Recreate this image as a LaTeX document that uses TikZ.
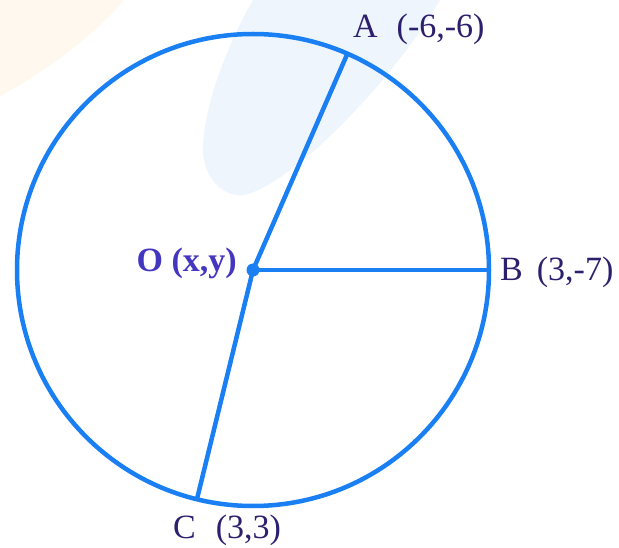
\documentclass[tikz,border=0pt]{standalone}
\usepackage{fontspec}
\setmainfont{Liberation Serif}
\definecolor{circblue}{HTML}{1A7FF2}
\definecolor{lblcol}{HTML}{2E1F6E}
\definecolor{ocol}{HTML}{4536C0}
\definecolor{wmblue}{HTML}{EEF5FD}
\definecolor{wmorange}{HTML}{FEF8EE}
\tikzset{
  geo/.style={draw=circblue, line width=4.5pt},
  lbl/.style={text=lblcol, font=\fontsize{34}{40}\selectfont, inner sep=0pt},
  olbl/.style={text=ocol, font=\fontsize{34}{40}\selectfont\bfseries, inner sep=0pt},
  wm/.style={fill=wmblue, draw=none},
  wmo/.style={fill=wmorange, draw=none}
}
\begin{document}
\begin{tikzpicture}[x=1pt,y=-1pt]
\useasboundingbox (0,0) rectangle (619,548);
% faint background watermarks
\fill[wmo] (0,0) -- (124,0) .. controls (90,40) and (40,75) .. (0,96) -- cycle;
\fill[wm] (253,0) .. controls (230,40) and (205,100) .. (203,146)
  .. controls (202,180) and (225,198) .. (245,195)
  .. controls (300,180) and (400,70) .. (440,0) -- cycle;
% geometry
\coordinate (O) at (253,270);
\coordinate (A) at (347.5,53.5);
\coordinate (B) at (489,270);
\coordinate (C) at (197,499);
\draw[geo] (O) circle (236);
\draw[geo] (O) -- (A);
\draw[geo] (O) -- (B);
\draw[geo] (O) -- (C);
\fill[circblue] (O) circle (6.5);
% labels
\node[lbl, anchor=base west] (la) at (353,38) {A\hspace{19pt}(-6,-6)};
\node[lbl, anchor=base west] (lb) at (500,281) {B\hspace{14pt}(3,-7)};
\node[lbl, anchor=base west] (lc) at (173,538) {C\hspace{20pt}(3,3)};
\node[olbl, anchor=base east] (lo) at (237,272) {O (x,y)};
\end{tikzpicture}
\end{document}
